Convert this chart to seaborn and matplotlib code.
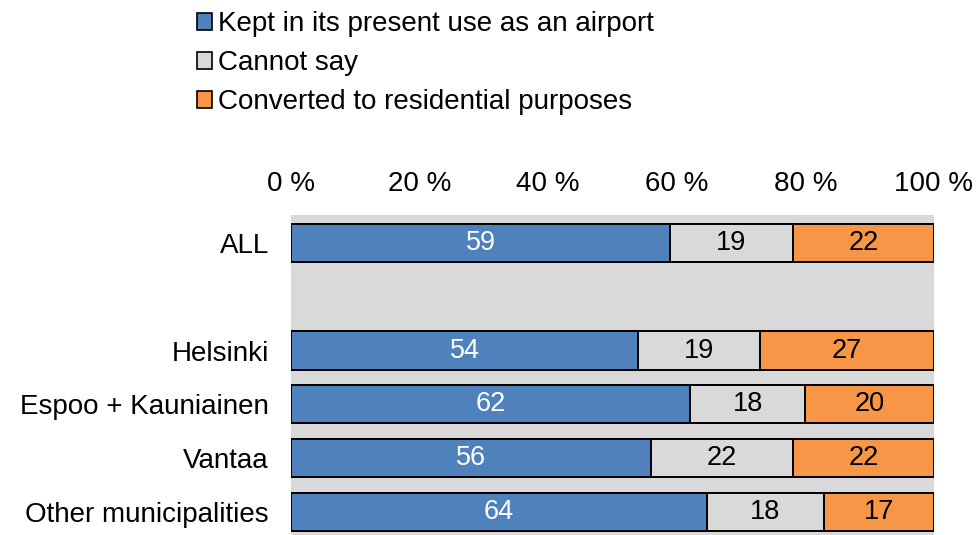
import numpy as np
import pandas as pd
import matplotlib
matplotlib.use("Agg")
import matplotlib.pyplot as plt
from matplotlib.patches import Patch
import seaborn as sns

# data
groups = ["ALL", "Helsinki", "Espoo + Kauniainen", "Vantaa", "Other municipalities"]
kept = [59, 54, 62, 56, 64]
cannot_say = [19, 19, 18, 22, 18]
converted = [22, 27, 20, 22, 17]
series_names = ["Kept in its present use as an airport", "Cannot say",
                "Converted to residential purposes"]
colors = ["#4F81BD", "#D9D9D9", "#F79646"]
order = ["ALL", " ", "Helsinki", "Espoo + Kauniainen", "Vantaa", "Other municipalities"]

df = pd.DataFrame({"group": groups, "kept": kept, "cannot": cannot_say, "conv": converted})
total = df[["kept", "cannot", "conv"]].sum(axis=1)
df["p1"] = df["kept"] / total * 100
df["p2"] = df["p1"] + df["cannot"] / total * 100
df["p3"] = df["p2"] + df["conv"] / total * 100

sns.set_theme(style="white")
plt.rcParams["font.family"] = ["Liberation Sans", "DejaVu Sans"]
plt.rcParams["font.size"] = 20
plt.rcParams["text.color"] = "black"
plt.rcParams["xtick.color"] = "black"
plt.rcParams["ytick.color"] = "black"

fig = plt.figure(figsize=(9.78, 5.35), dpi=100)
ax = fig.add_axes([291 / 978, 0.0, (934 - 291) / 978, 1 - 215 / 535])
ax.set_facecolor("#D9D9D9")

# layered bars: full length first, then shorter ones on top
for col, c in zip(["p3", "p2", "p1"], colors[::-1]):
    sns.barplot(data=df, x=col, y="group", order=order, orient="h", color=c,
                width=0.71, edgecolor="black", linewidth=1.4, saturation=1, ax=ax)

for i, row in df.iterrows():
    ypos = order.index(row["group"])
    ax.text(row["p1"] / 2, ypos, str(row["kept"]), ha="center", va="center",
            color="white", fontsize=19.5)
    ax.text((row["p1"] + row["p2"]) / 2, ypos, str(row["cannot"]), ha="center",
            va="center", color="black", fontsize=19.5)
    ax.text((row["p2"] + row["p3"]) / 2, ypos, str(row["conv"]), ha="center",
            va="center", color="black", fontsize=19.5)

ax.set_xlim(0, 100)
ax.set_ylim(5.43, -0.52)
ax.set_xticks([0, 20, 40, 60, 80, 100])
ax.set_xticklabels([f"{t} %" for t in [0, 20, 40, 60, 80, 100]])
ax.xaxis.tick_top()
ax.tick_params(axis="x", length=0, pad=13, labelsize=20)
ax.tick_params(axis="y", length=0, pad=16, labelsize=20)
ax.set_xlabel("")
ax.set_ylabel("")
for s in ax.spines.values():
    s.set_visible(False)

handles = [Patch(facecolor=c, edgecolor="black", linewidth=1.2) for c in colors]
fig.legend(handles, series_names, loc="upper left", bbox_to_anchor=(186 / 978, 1.0),
           frameon=False, fontsize=20, handlelength=0.55, handleheight=0.55,
           handletextpad=0.2, labelspacing=0.47, borderaxespad=0)

fig.savefig("out.png", dpi=100)
